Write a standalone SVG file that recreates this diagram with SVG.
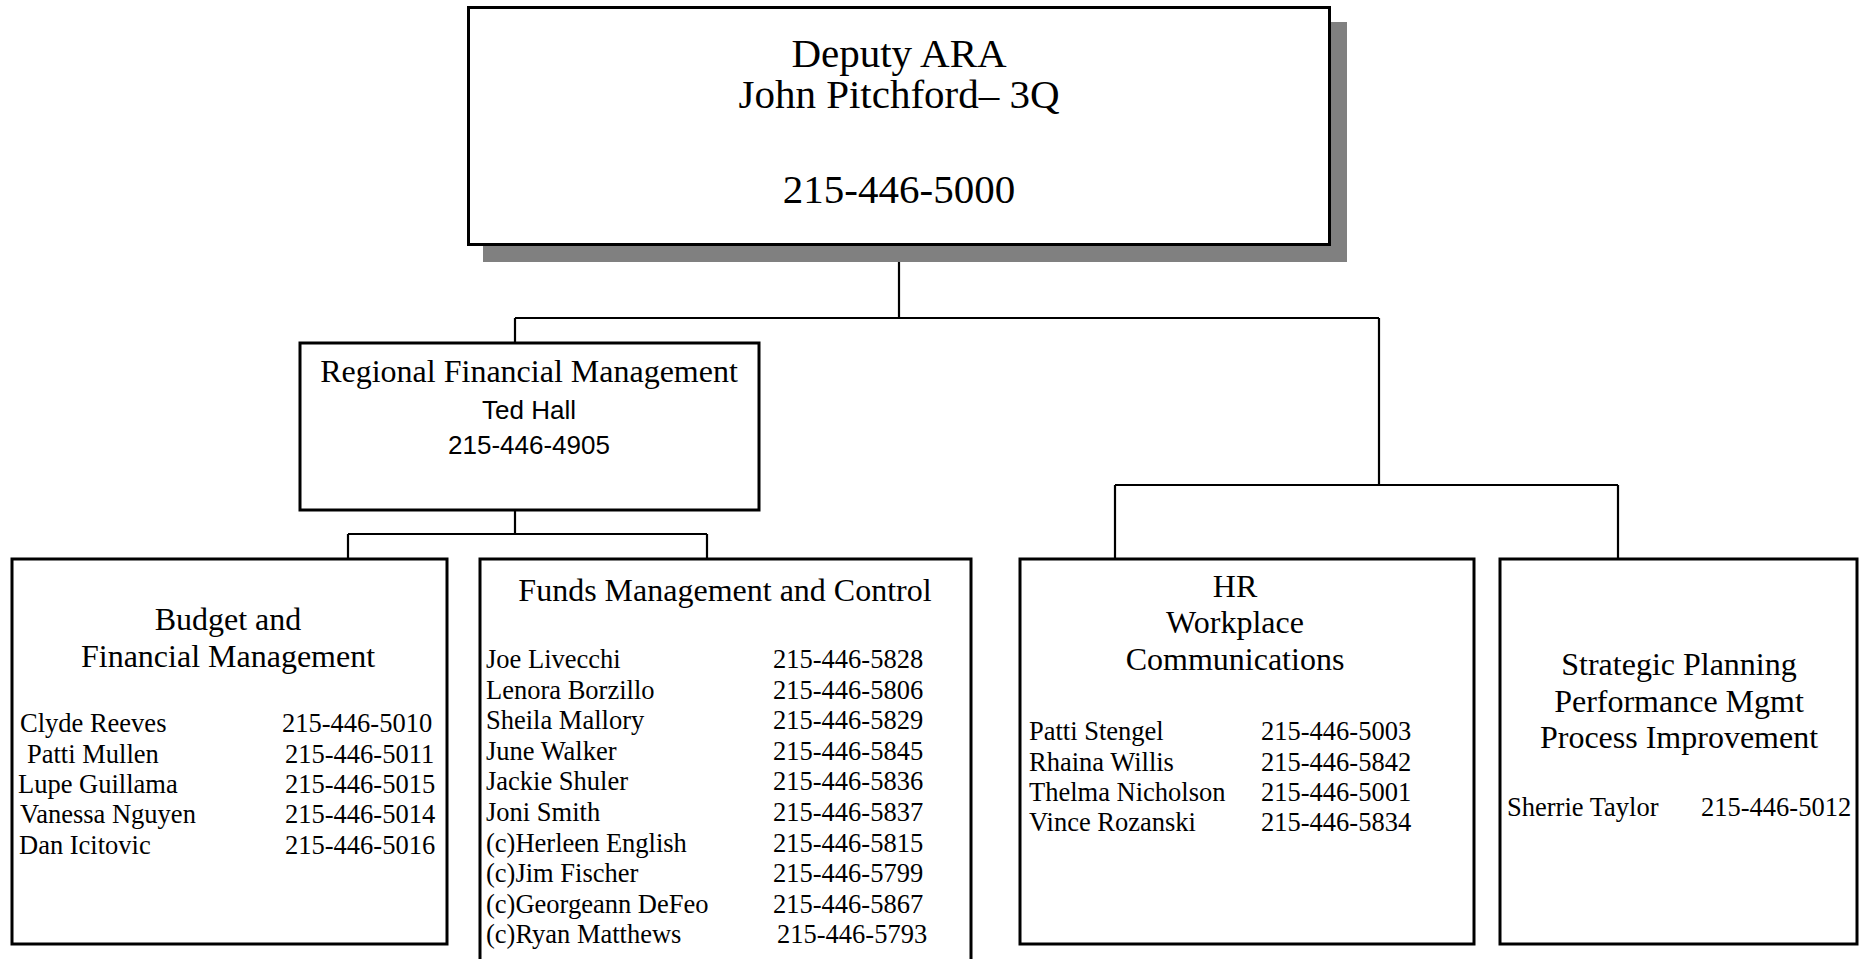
<svg xmlns="http://www.w3.org/2000/svg" width="1868" height="959" viewBox="0 0 1868 959">
<style>
.box{fill:#fff;stroke:#000;stroke-width:3}
.shadow{fill:#808080}
.con{fill:none;stroke:#000;stroke-width:2.2}
.t{font-family:"Liberation Serif","Times New Roman",serif;fill:#000}
.s{font-family:"Liberation Sans",Arial,sans-serif;fill:#000}
.big{font-size:41px}
.h{font-size:32px}
.e{font-size:26.5px}
.m{text-anchor:middle}
</style>
<rect width="1868" height="959" fill="#fff"/>
<g id="connectors">
<path class="con" d="M899 246V318M515 318H1379M515 318V343M1379 318V485M1115 485H1618M1115 485V559M1618 485V559"/>
<path class="con" d="M515 510V534M348 534H707M348 534V559M707 534V559"/>
</g>
<g id="deputy-ara">
<rect class="shadow" x="483" y="22" width="864" height="240"/>
<rect class="box" x="468.5" y="7.5" width="861" height="237"/>
<text class="t big m" x="899" y="67">Deputy ARA</text>
<text class="t big m" x="899" y="108">John Pitchford– 3Q</text>
<text class="t big m" x="899" y="203">215-446-5000</text>
</g>
<g id="regional-financial-management">
<rect class="box" x="300" y="343" width="459" height="167"/>
<text class="t h m" x="529" y="382">Regional Financial Management</text>
<text class="s m" font-size="26" x="529" y="419">Ted Hall</text>
<text class="s m" font-size="26" x="529" y="454">215-446-4905</text>
</g>
<g id="budget-financial-management">
<rect class="box" x="12" y="559" width="435" height="385"/>
<text class="t h m" x="228" y="630">Budget and</text>
<text class="t h m" x="228" y="667">Financial Management</text>
<g class="t e">
<text x="20" y="732">Clyde Reeves</text><text x="282" y="732">215-446-5010</text>
<text x="27" y="763">Patti Mullen</text><text x="285" y="763">215-446-5011</text>
<text x="18" y="793">Lupe Guillama</text><text x="285" y="793">215-446-5015</text>
<text x="20" y="823">Vanessa Nguyen</text><text x="285" y="823">215-446-5014</text>
<text x="19" y="854">Dan Icitovic</text><text x="285" y="854">215-446-5016</text>
</g>
</g>
<g id="funds-management-control">
<rect class="box" x="480" y="559" width="491" height="410"/>
<text class="t h m" x="725" y="601">Funds Management and Control</text>
<g class="t e">
<text x="486" y="668">Joe Livecchi</text><text x="773" y="668">215-446-5828</text>
<text x="486" y="699">Lenora Borzillo</text><text x="773" y="699">215-446-5806</text>
<text x="486" y="729">Sheila Mallory</text><text x="773" y="729">215-446-5829</text>
<text x="486" y="760">June Walker</text><text x="773" y="760">215-446-5845</text>
<text x="486" y="790">Jackie Shuler</text><text x="773" y="790">215-446-5836</text>
<text x="486" y="821">Joni Smith</text><text x="773" y="821">215-446-5837</text>
<text x="486" y="852">(c)Herleen English</text><text x="773" y="852">215-446-5815</text>
<text x="486" y="882">(c)Jim Fischer</text><text x="773" y="882">215-446-5799</text>
<text x="486" y="913">(c)Georgeann DeFeo</text><text x="773" y="913">215-446-5867</text>
<text x="486" y="943">(c)Ryan Matthews</text><text x="777" y="943">215-446-5793</text>
</g>
</g>
<g id="hr-workplace-communications">
<rect class="box" x="1020" y="559" width="454" height="385"/>
<text class="t h m" x="1235" y="597">HR</text>
<text class="t h m" x="1235" y="633">Workplace</text>
<text class="t h m" x="1235" y="670">Communications</text>
<g class="t e">
<text x="1029" y="740">Patti Stengel</text><text x="1261" y="740">215-446-5003</text>
<text x="1029" y="771">Rhaina Willis</text><text x="1261" y="771">215-446-5842</text>
<text x="1029" y="801">Thelma Nicholson</text><text x="1261" y="801">215-446-5001</text>
<text x="1029" y="831">Vince Rozanski</text><text x="1261" y="831">215-446-5834</text>
</g>
</g>
<g id="strategic-planning">
<rect class="box" x="1500" y="559" width="357" height="385"/>
<text class="t h m" x="1679" y="675">Strategic Planning</text>
<text class="t h m" x="1679" y="712">Performance Mgmt</text>
<text class="t h m" x="1679" y="748">Process Improvement</text>
<g class="t e">
<text x="1507" y="816">Sherrie Taylor</text><text x="1701" y="816">215-446-5012</text>
</g>
</g>
</svg>
